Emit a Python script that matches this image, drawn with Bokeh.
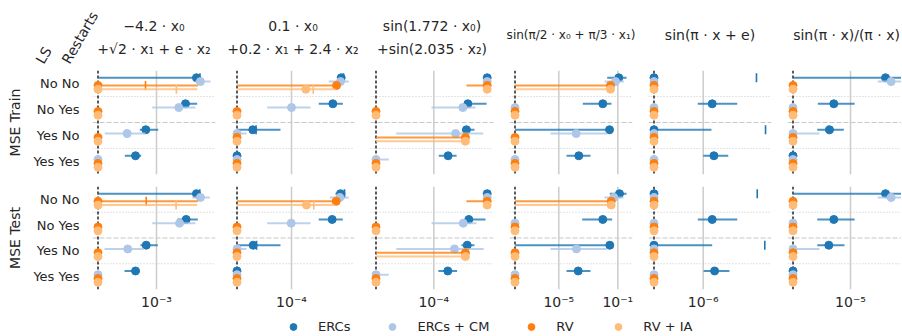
import numpy as np
from bokeh.plotting import figure
from bokeh.models import Range1d, FixedTicker, CustomJSTickFormatter, Span, Legend, LegendItem
from bokeh.layouts import column, row
from bokeh.embed import file_html
from bokeh.resources import INLINE
from bokeh.core.properties import value

# ---------------- data ----------------
categories = ["No No", "No Yes", "Yes No", "Yes Yes"]          # LS / Restarts
series = ["ERCs", "ERCs + CM", "RV", "RV + IA"]
metrics = ["MSE Train", "MSE Test"]
titles = [
    ["\u22124.2 \u00b7 x\u2080", "+\u221a2 \u00b7 x\u2081 + e \u00b7 x\u2082"],
    ["0.1 \u00b7 x\u2080", "+0.2 \u00b7 x\u2081 + 2.4 \u00b7 x\u2082"],
    ["sin(1.772 \u00b7 x\u2080)", "+sin(2.035 \u00b7 x\u2082)"],
    ["sin(\u03c0/2 \u00b7 x\u2080 + \u03c0/3 \u00b7 x\u2081)"],
    ["sin(\u03c0 \u00b7 x + e)"],
    ["sin(\u03c0 \u00b7 x)/(\u03c0 \u00b7 x)"],
]
tick_exponents = [[-3], [-4], [-4], [-5, -1], [-6], [-5]]

Z = [0, 0, 0, 0]
N = [None, None, None, None]

# [panel][series][category]; 0 = exact recovery (drawn on the dashed line)
train_median = [
    [[2.51e-3, 1.95e-3, 7.82e-4, 6.17e-4], [2.75e-3, 1.67e-3, 5.09e-4, 0], Z, Z],
    [[3.14e-4, 2.59e-4, 4.10e-5, 0], [3.09e-4, 1.0e-4, 0, 0], [2.82e-4, 0, 0, 0], [1.39e-4, 0, 0, 0]],
    [[3.42e-4, 2.19e-4, 2.12e-4, 1.39e-4], [3.42e-4, 1.95e-4, 1.65e-4, 0], [3.42e-4, 0, 2.07e-4, 0], [3.42e-4, 0, 2.07e-4, 0]],
    [[0.117, 9.62e-3, 0.0274, 2.27e-4], [0.0698, 0, 1.51e-4, 0], [0.032, 0, 0, 0], [0.032, 0, 0, 0]],
    [[0, 1.23e-6, 0, 1.28e-6], Z, Z, Z],
    [[2.24e-5, 6.81e-6, 6.17e-6, 0], [2.55e-5, 0, 0, 0], Z, Z],
]
train_low = [
    [[0, 1.81e-3, 6.81e-4, 4.82e-4], [2.45e-3, 9.06e-4, 3.04e-4, 0], Z, Z],
    [[2.86e-4, 1.87e-4, 0, 0], [2.36e-4, 5.71e-5, 0, 0], Z, Z],
    [[3.21e-4, 2.0e-4, 1.92e-4, 1.12e-4], [3.21e-4, 9.48e-5, 4.21e-5, 0], [2.12e-4, 0, 0, 0], [3.25e-4, 0, 0, 0]],
    [[0.0191, 4.24e-4, 0, 3.33e-5], [0.0125, 0, 2.73e-6, 0], Z, Z],
    [[0, 8.83e-7, 0, 1.0e-6], Z, Z, Z],
    [[0, 4.71e-6, 4.65e-6, 0], [1.87e-5, 0, 0, 0], Z, Z],
]
train_high = [
    [[2.80e-3, 2.55e-3, 1.04e-3, 7.03e-4], [3.47e-3, 2.45e-3, 7.76e-4, 0], [2.59e-3, 0, 2.85e-4, 0], [2.57e-3, 0, 0, 0]],
    [[3.39e-4, 3.26e-4, 7.76e-5, 0], [3.74e-4, 1.55e-4, 3.55e-5, 0], [3.09e-4, 0, 0, 0], [2.75e-4, 0, 0, 0]],
    [[3.61e-4, 3.37e-4, 2.55e-4, 1.69e-4], [3.61e-4, 2.61e-4, 3.12e-4, 3.55e-5], [3.52e-4, 0, 2.17e-4, 0], [3.60e-4, 0, 2.17e-4, 0]],
    [[0.389, 0.0374, 0.032, 1.41e-3], [0.255, 0, 0.0191, 0], [0.0374, 0, 0, 0], [0.0374, 0, 0, 0]],
    [[0, 2.19e-6, 1.21e-6, 1.78e-6], Z, Z, Z],
    [[4.47e-5, 1.10e-5, 8.57e-6, 0], [3.98e-5, 0, 4.90e-6, 0], Z, Z],
]
train_mean = [
    [[2.72e-3, None, None, None], N, [7.76e-4, None, None, None], [1.58e-3, None, None, None]],
    [[3.31e-4, None, 4.42e-5, None], N, N, [1.65e-4, None, None, None]],
    [N, N, N, N],
    [N, N, N, N],
    [[3.41e-6, None, 4.20e-6, None], N, N, N],
    [N, N, N, N],
]

test_median = [
    [[2.51e-3, 1.98e-3, 7.89e-4, 6.17e-4], [2.75e-3, 1.70e-3, 5.16e-4, 0], Z, Z],
    [[3.09e-4, 2.55e-4, 4.14e-5, 0], [3.04e-4, 9.93e-5, 0, 0], [2.80e-4, 0, 0, 0], [1.41e-4, 0, 0, 0]],
    [[3.42e-4, 2.24e-4, 2.16e-4, 1.38e-4], [3.42e-4, 1.97e-4, 1.61e-4, 0], [3.42e-4, 0, 2.07e-4, 0], [3.42e-4, 0, 2.07e-4, 0]],
    [[0.130, 9.62e-3, 0.0287, 2.07e-4], [0.0536, 0, 1.58e-4, 0], [0.0357, 0, 0, 0], [0.0357, 0, 0, 0]],
    [[0, 1.23e-6, 0, 1.30e-6], Z, Z, Z],
    [[2.24e-5, 6.81e-6, 6.07e-6, 0], [2.55e-5, 0, 0, 0], Z, Z],
]
test_low = [
    [[0, 1.61e-3, 6.92e-4, 4.79e-4], [2.28e-3, 9.06e-4, 3.02e-4, 0], Z, Z],
    [[2.75e-4, 1.87e-4, 0, 0], [2.42e-4, 5.71e-5, 0, 0], Z, Z],
    [[3.21e-4, 2.03e-4, 1.89e-4, 1.11e-4], [3.21e-4, 9.48e-5, 4.21e-5, 0], [2.12e-4, 0, 0, 0], [3.25e-4, 0, 0, 0]],
    [[0.0287, 3.86e-4, 0, 3.33e-5], [0.0125, 0, 2.73e-6, 0], Z, Z],
    [[0, 8.83e-7, 0, 1.01e-6], Z, Z, Z],
    [[0, 4.65e-6, 4.65e-6, 0], [1.87e-5, 0, 0, 0], Z, Z],
]
test_high = [
    [[2.75e-3, 2.59e-3, 1.03e-3, 6.81e-4], [3.41e-3, 2.45e-3, 7.46e-4, 0], [2.59e-3, 0, 2.85e-4, 0], [2.55e-3, 0, 0, 0]],
    [[3.47e-4, 3.26e-4, 7.76e-5, 0], [3.74e-4, 1.55e-4, 3.55e-5, 0], [2.90e-4, 0, 0, 0], [2.69e-4, 0, 0, 0]],
    [[3.61e-4, 3.29e-4, 2.55e-4, 1.71e-4], [3.61e-4, 2.67e-4, 3.16e-4, 3.55e-5], [3.52e-4, 0, 2.17e-4, 0], [3.60e-4, 0, 2.17e-4, 0]],
    [[0.389, 0.0417, 0.032, 1.41e-3], [0.243, 0, 0.0191, 0], [0.0405, 0, 0, 0], [0.0405, 0, 0, 0]],
    [[0, 2.19e-6, 1.23e-6, 1.83e-6], Z, Z, Z],
    [[4.47e-5, 1.10e-5, 8.71e-6, 0], [3.98e-5, 0, 4.90e-6, 0], Z, Z],
]
test_mean = [
    [[2.71e-3, None, None, None], N, [7.89e-4, None, None, None], [1.57e-3, None, None, None]],
    [[3.39e-4, None, 4.47e-5, None], N, N, [1.67e-4, None, None, None]],
    [N, N, N, N],
    [N, N, N, N],
    [[3.47e-6, None, 4.13e-6, None], N, N, N],
    [N, N, N, N],
]

# ---------------- axis configuration ----------------
x_log_limits = [(-3.64, -2.41), (-4.60, -3.37), (-4.633, -3.403), (-8.342, -0.003), (-6.547, -5.317), (-5.63, -4.49)]
zero_log = [-3.585, -4.545, -4.578, -7.969, -6.492, -5.575]

# ---------------- styles / layout ----------------
colors = ["#1f77b4", "#aec7e8", "#ff7f0e", "#ffbb78"]
offsets = [-0.22, -0.075, 0.075, 0.22]
FONT = "DejaVu Sans"
TXT = "#262626"
GRID = "#cccccc"
LEFT_BORDER, GAP, FRAME_W, LAST_FRAME_W = 92, 16, 123, 114
FRAME_H, TRAIN_BOTTOM, TEST_BOTTOM = 104, 12, 22
HEADER_H, LEGEND_H = 70, 23
TOTAL_W = LEFT_BORDER + 5 * (FRAME_W + GAP) + LAST_FRAME_W

SUP = "const sup = {'-':'\u207b','0':'\u2070','1':'\u00b9','2':'\u00b2','3':'\u00b3','4':'\u2074','5':'\u2075','6':'\u2076','7':'\u2077','8':'\u2078','9':'\u2079'};"
fmt_code = SUP + """
const e = Math.round(Math.log10(tick));
return '10' + String(e).split('').map(c => sup[c]).join('');
"""


def clip(v, floor):
    return floor if (v is None or v <= floor) else v


def make_panel(m, j, med, low, high, mean):
    first, last = j == 0, j == 5
    fw = LAST_FRAME_W if last else FRAME_W
    width = fw + (LEFT_BORDER if first else 0) + (0 if last else GAP)
    bottom = TEST_BOTTOM if m == 1 else TRAIN_BOTTOM
    lo_e, hi_e = x_log_limits[j]
    floor = 10 ** zero_log[j]
    p = figure(width=width, height=FRAME_H + bottom, x_axis_type="log",
               x_range=Range1d(10 ** lo_e, 10 ** hi_e), y_range=Range1d(3.5, -0.5),
               x_axis_location="below" if m == 1 else None,
               y_axis_location="left" if first else None,
               toolbar_location=None, output_backend="svg", title=None,
               min_border_left=LEFT_BORDER if first else 0,
               min_border_right=0 if last else GAP,
               min_border_top=0, min_border_bottom=bottom)
    p.outline_line_color = None
    p.xgrid.visible = False
    p.ygrid.visible = False
    ticks = [10.0 ** k for k in tick_exponents[j]]
    for t in ticks:
        p.add_layout(Span(location=t, dimension="height", line_color=GRID, line_width=1.5, level="underlay"))
    for loc, dash in [(0.5, "1 2"), (1.5, "5 2"), (2.5, "1 2")]:
        p.add_layout(Span(location=loc, dimension="width", line_color="#c8c8c8", line_width=1.2,
                          line_dash=dash, level="underlay"))
    p.add_layout(Span(location=floor, dimension="height", line_color="black", line_width=1.3,
                      line_dash="3 2", level="underlay"))

    for s in range(4):
        ys = [i + offsets[s] for i in range(len(categories))]
        xm = [clip(v, floor) for v in med[j][s]]
        x0 = [clip(v, floor) for v in low[j][s]]
        x1 = [clip(v, floor) for v in high[j][s]]
        p.segment(x0=x0, y0=ys, x1=x1, y1=ys, line_color=colors[s], line_width=2, line_alpha=0.8)
        p.scatter(x=xm, y=ys, size=8, color=colors[s])
        mx = [v for v in mean[j][s] if v is not None]
        my = [ys[i] for i, v in enumerate(mean[j][s]) if v is not None]
        if mx:
            p.scatter(x=mx, y=my, marker="dash", angle=np.pi / 2, size=9,
                      line_color=colors[s], line_width=1.6)

    if first:
        ax = p.yaxis[0]
        ax.ticker = FixedTicker(ticks=list(range(len(categories))))
        ax.major_label_overrides = {i: c for i, c in enumerate(categories)}
        ax.axis_line_color = None
        ax.major_tick_line_color = None
        ax.minor_tick_line_color = None
        ax.major_tick_out = 0
        ax.major_tick_in = 0
        ax.major_label_standoff = 13
        ax.major_label_text_font = FONT
        ax.major_label_text_font_size = "13px"
        ax.major_label_text_color = TXT
        ax.axis_label = metrics[m]
        ax.axis_label_standoff = 7
        ax.axis_label_text_font = FONT
        ax.axis_label_text_font_size = "14px"
        ax.axis_label_text_font_style = "normal"
        ax.axis_label_text_color = TXT
    if m == 1:
        ax = p.xaxis[0]
        ax.ticker = FixedTicker(ticks=ticks)
        ax.formatter = CustomJSTickFormatter(code=fmt_code)
        ax.axis_line_color = None
        ax.major_tick_line_color = None
        ax.minor_tick_line_color = None
        ax.major_tick_out = 0
        ax.major_tick_in = 0
        ax.major_label_standoff = 4
        ax.major_label_text_font = FONT
        ax.major_label_text_font_size = "14px"
        ax.major_label_text_color = TXT
    return p


# header with panel titles and factor names
hdr = figure(width=TOTAL_W, height=HEADER_H, x_range=Range1d(0, TOTAL_W), y_range=Range1d(HEADER_H, 0),
             x_axis_location=None, y_axis_location=None, toolbar_location=None,
             output_backend="svg", title=None, min_border=0)
hdr.outline_line_color = None
hdr.xgrid.visible = False
hdr.ygrid.visible = False
for j, lines in enumerate(titles):
    cx = min(LEFT_BORDER + j * (FRAME_W + GAP) + FRAME_W / 2, TOTAL_W - 55)
    ys = [25, 48] if len(lines) == 2 else [34]
    fs = "12px" if len(lines[0]) > 20 else "14px"
    hdr.text(x=[cx] * len(lines), y=ys, text=lines, text_align="center", text_baseline="middle",
             text_font=value(FONT), text_font_size=fs, text_color=TXT)
hdr.text(x=[39, 65], y=[62, 62], text=["LS", "Restarts"], angle=np.radians(60),
         text_align="left", text_baseline="alphabetic", text_font=value(FONT),
         text_font_size="14px", text_color=TXT)

train_row = [make_panel(0, j, train_median, train_low, train_high, train_mean) for j in range(6)]
test_row = [make_panel(1, j, test_median, test_low, test_high, test_mean) for j in range(6)]

# legend (key glyphs kept outside the visible range)
leg = figure(width=TOTAL_W, height=LEGEND_H, x_range=Range1d(0, 1), y_range=Range1d(0, 1),
             x_axis_location=None, y_axis_location=None, toolbar_location=None,
             output_backend="svg", title=None, min_border=0)
leg.outline_line_color = None
leg.xgrid.visible = False
leg.ygrid.visible = False
items = []
for s in range(4):
    r = leg.scatter(x=[5], y=[5], size=8, color=colors[s])
    items.append(LegendItem(label=series[s], renderers=[r]))
legend = Legend(items=items, orientation="horizontal", location=(283, 0), glyph_width=20,
                glyph_height=17, label_height=17, label_standoff=15, spacing=32, padding=0,
                margin=0, border_line_color=None, background_fill_alpha=0,
                label_text_font=FONT, label_text_font_size="13px", label_text_color=TXT)
leg.add_layout(legend)

layout = column(hdr, row(*train_row), row(*test_row), leg)
open("out.html", "w").write(file_html(layout, INLINE, title="chart"))
